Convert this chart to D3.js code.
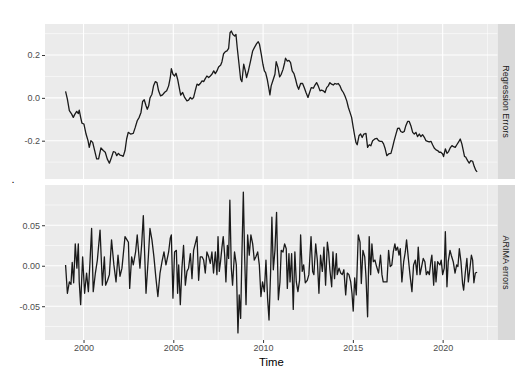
<!DOCTYPE html>
<html><head><meta charset="utf-8">
<script src="https://cdn.jsdelivr.net/npm/d3@7"></script>
<style>body{margin:0;background:#fff}svg{display:block}text{font-family:"Liberation Sans",Arial,Helvetica,sans-serif}</style>
</head><body><svg id="c" width="521" height="373"></svg>
<script>
const facetLabels = ["Regression Errors", "ARIMA errors"];
const xTitle = "Time";
const yTitle = ".";

const regYears = [1999.00,1999.10,1999.21,1999.34,1999.43,1999.52,1999.62,1999.71,1999.76,1999.84,1999.91,2000.02,2000.14,2000.25,2000.32,2000.41,2000.51,2000.62,2000.73,2000.84,2000.97,2001.10,2001.21,2001.32,2001.44,2001.56,2001.66,2001.77,2001.85,2001.94,2002.03,2002.14,2002.21,2002.31,2002.40,2002.49,2002.62,2002.77,2002.88,2002.99,2003.10,2003.20,2003.29,2003.38,2003.48,2003.55,2003.63,2003.70,2003.81,2003.90,2004.00,2004.09,2004.18,2004.29,2004.40,2004.52,2004.63,2004.74,2004.83,2004.89,2004.98,2005.07,2005.15,2005.24,2005.33,2005.41,2005.52,2005.63,2005.76,2005.85,2005.95,2006.04,2006.13,2006.22,2006.32,2006.41,2006.50,2006.60,2006.69,2006.78,2006.87,2006.97,2007.06,2007.15,2007.25,2007.34,2007.43,2007.52,2007.64,2007.71,2007.80,2007.90,2007.99,2008.08,2008.16,2008.23,2008.32,2008.42,2008.49,2008.56,2008.66,2008.75,2008.82,2008.92,2009.01,2009.08,2009.19,2009.30,2009.42,2009.53,2009.64,2009.73,2009.80,2009.90,2009.99,2010.07,2010.14,2010.23,2010.33,2010.38,2010.45,2010.57,2010.66,2010.73,2010.83,2010.92,2011.01,2011.11,2011.20,2011.25,2011.35,2011.44,2011.53,2011.62,2011.72,2011.81,2011.90,2011.98,2012.09,2012.20,2012.29,2012.39,2012.50,2012.59,2012.68,2012.80,2012.89,2012.98,2013.07,2013.17,2013.26,2013.35,2013.45,2013.54,2013.63,2013.72,2013.82,2013.91,2014.00,2014.10,2014.19,2014.28,2014.38,2014.47,2014.56,2014.66,2014.75,2014.84,2014.93,2015.02,2015.10,2015.17,2015.24,2015.34,2015.43,2015.52,2015.61,2015.73,2015.82,2015.91,2016.00,2016.10,2016.22,2016.34,2016.43,2016.52,2016.62,2016.71,2016.80,2016.89,2016.99,2017.12,2017.21,2017.30,2017.40,2017.49,2017.58,2017.67,2017.77,2017.86,2017.95,2018.05,2018.14,2018.23,2018.33,2018.42,2018.51,2018.60,2018.70,2018.79,2018.88,2018.98,2019.07,2019.16,2019.25,2019.35,2019.44,2019.53,2019.63,2019.72,2019.81,2019.90,2020.00,2020.05,2020.15,2020.24,2020.33,2020.42,2020.52,2020.61,2020.70,2020.79,2020.89,2020.98,2021.07,2021.15,2021.22,2021.29,2021.39,2021.48,2021.57,2021.67,2021.76,2021.85,2021.92];
const regErrors = [0.030,-0.006,-0.060,-0.076,-0.091,-0.076,-0.063,-0.073,-0.057,-0.091,-0.118,-0.122,-0.169,-0.200,-0.231,-0.200,-0.208,-0.246,-0.285,-0.285,-0.234,-0.246,-0.254,-0.285,-0.305,-0.277,-0.251,-0.254,-0.270,-0.259,-0.267,-0.270,-0.273,-0.246,-0.192,-0.161,-0.169,-0.166,-0.138,-0.107,-0.091,-0.068,-0.017,-0.009,-0.037,-0.053,-0.037,-0.001,0.017,0.056,0.076,0.071,0.033,0.009,0.014,0.026,0.033,0.056,0.094,0.136,0.110,0.102,0.115,0.087,0.048,0.013,0.025,0.002,-0.014,-0.011,0.002,-0.006,0.002,0.033,0.064,0.059,0.067,0.079,0.076,0.090,0.102,0.095,0.102,0.110,0.126,0.113,0.126,0.144,0.153,0.169,0.206,0.216,0.219,0.231,0.304,0.312,0.296,0.289,0.296,0.234,0.157,0.087,0.076,0.157,0.126,0.095,0.129,0.172,0.219,0.237,0.253,0.262,0.250,0.203,0.157,0.126,0.118,0.087,0.040,0.014,0.056,0.087,0.110,0.169,0.141,0.098,0.110,0.133,0.164,0.185,0.172,0.175,0.164,0.126,0.113,0.087,0.056,0.040,0.067,0.067,0.048,0.025,0.002,0.025,0.048,0.045,0.060,0.071,0.056,0.033,0.036,0.033,0.025,0.048,0.056,0.071,0.064,0.060,0.067,0.064,0.067,0.056,0.036,0.025,0.009,-0.014,-0.045,-0.068,-0.091,-0.138,-0.177,-0.208,-0.219,-0.177,-0.169,-0.185,-0.169,-0.166,-0.231,-0.219,-0.224,-0.200,-0.192,-0.189,-0.200,-0.203,-0.203,-0.215,-0.238,-0.270,-0.262,-0.259,-0.231,-0.200,-0.169,-0.143,-0.141,-0.157,-0.161,-0.157,-0.130,-0.110,-0.110,-0.130,-0.161,-0.169,-0.161,-0.181,-0.169,-0.181,-0.172,-0.184,-0.200,-0.203,-0.206,-0.203,-0.219,-0.234,-0.243,-0.246,-0.254,-0.254,-0.262,-0.274,-0.238,-0.259,-0.251,-0.234,-0.223,-0.228,-0.231,-0.219,-0.206,-0.192,-0.215,-0.246,-0.274,-0.277,-0.293,-0.305,-0.293,-0.296,-0.321,-0.339,-0.346];

const arimaYears = [1999.00,1999.10,1999.21,1999.30,1999.37,1999.45,1999.54,1999.63,1999.71,1999.76,1999.84,1999.95,2000.06,2000.17,2000.27,2000.36,2000.45,2000.54,2000.66,2000.77,2000.92,2001.05,2001.16,2001.23,2001.34,2001.44,2001.56,2001.69,2001.81,2001.92,2002.03,2002.14,2002.31,2002.42,2002.50,2002.57,2002.68,2002.77,2002.90,2002.99,2003.14,2003.24,2003.33,2003.48,2003.61,2003.70,2003.81,2003.92,2004.03,2004.14,2004.26,2004.37,2004.48,2004.59,2004.74,2004.83,2004.89,2004.98,2005.07,2005.17,2005.24,2005.30,2005.39,2005.48,2005.57,2005.67,2005.76,2005.85,2005.95,2006.04,2006.13,2006.22,2006.32,2006.41,2006.50,2006.60,2006.69,2006.78,2006.87,2006.97,2007.06,2007.15,2007.24,2007.34,2007.43,2007.49,2007.56,2007.63,2007.71,2007.78,2007.86,2007.93,2008.01,2008.08,2008.15,2008.23,2008.30,2008.41,2008.51,2008.60,2008.67,2008.75,2008.82,2008.90,2008.97,2009.05,2009.14,2009.23,2009.32,2009.42,2009.51,2009.60,2009.70,2009.79,2009.88,2009.97,2010.07,2010.16,2010.25,2010.33,2010.42,2010.49,2010.57,2010.66,2010.75,2010.85,2010.94,2011.01,2011.11,2011.20,2011.29,2011.35,2011.44,2011.50,2011.59,2011.68,2011.77,2011.85,2011.94,2012.03,2012.09,2012.18,2012.26,2012.35,2012.46,2012.55,2012.67,2012.76,2012.83,2012.93,2013.02,2013.11,2013.20,2013.30,2013.39,2013.48,2013.58,2013.65,2013.72,2013.82,2013.89,2013.98,2014.08,2014.13,2014.23,2014.32,2014.41,2014.50,2014.60,2014.69,2014.78,2014.88,2014.95,2015.02,2015.10,2015.19,2015.30,2015.40,2015.47,2015.56,2015.66,2015.73,2015.82,2015.91,2015.99,2016.06,2016.14,2016.23,2016.32,2016.43,2016.54,2016.62,2016.69,2016.80,2016.90,2016.99,2017.08,2017.17,2017.25,2017.34,2017.40,2017.49,2017.57,2017.64,2017.73,2017.83,2017.92,2017.99,2018.09,2018.18,2018.29,2018.38,2018.48,2018.57,2018.64,2018.74,2018.83,2018.92,2019.01,2019.09,2019.18,2019.26,2019.35,2019.40,2019.50,2019.57,2019.63,2019.72,2019.78,2019.85,2019.92,2020.00,2020.09,2020.15,2020.24,2020.31,2020.41,2020.48,2020.59,2020.69,2020.78,2020.85,2020.93,2021.02,2021.11,2021.17,2021.26,2021.35,2021.43,2021.50,2021.60,2021.67,2021.74,2021.82,2021.92];
const arimaErrors = [0.001,-0.034,-0.020,-0.023,0.004,-0.021,0.027,-0.003,0.027,-0.020,-0.048,0.011,-0.034,-0.009,-0.032,0.005,0.046,-0.032,-0.009,0.007,0.044,-0.024,0.011,-0.024,-0.018,-0.011,0.032,0.001,-0.020,0.013,-0.013,-0.003,0.036,0.032,0.029,-0.028,0.011,0.001,0.017,0.038,-0.003,0.027,0.062,-0.034,0.011,0.046,0.032,0.011,-0.015,-0.038,-0.009,0.005,0.017,0.001,0.017,0.034,0.038,-0.040,0.017,0.019,-0.034,0.001,-0.048,-0.003,0.025,-0.024,-0.007,-0.003,0.015,-0.016,0.019,0.027,0.036,-0.018,0.011,0.011,0.007,-0.009,0.017,0.011,0.003,0.017,-0.009,0.017,-0.011,0.036,-0.007,0.005,0.023,0.036,0.013,-0.020,0.025,0.009,0.081,-0.003,-0.024,0.017,0.001,-0.083,-0.036,-0.065,0.013,0.091,0.013,-0.048,0.038,0.013,0.038,0.027,0.007,0.011,0.017,0.001,-0.038,-0.020,-0.032,0.007,-0.040,-0.067,-0.007,0.060,-0.005,0.019,0.066,-0.042,-0.020,0.019,0.017,0.027,0.021,-0.028,0.015,-0.020,0.015,-0.054,0.017,-0.020,-0.032,-0.018,0.038,-0.007,0.001,-0.021,-0.018,-0.011,0.036,-0.007,-0.011,0.027,0.007,-0.034,0.013,-0.007,0.023,-0.024,0.029,0.017,-0.005,-0.026,0.017,-0.016,0.015,-0.011,-0.003,-0.009,-0.011,-0.005,-0.036,-0.009,-0.011,-0.020,-0.034,-0.056,-0.015,-0.036,0.038,0.029,-0.022,0.019,0.011,-0.014,-0.063,0.036,-0.011,0.027,0.005,0.007,-0.001,-0.009,0.013,-0.011,-0.020,-0.020,-0.020,0.019,-0.001,0.001,0.017,0.027,0.019,0.023,0.013,0.021,-0.020,0.005,0.017,0.032,0.009,-0.011,-0.032,0.001,0.007,-0.011,0.023,-0.011,-0.001,0.009,0.005,-0.011,-0.007,-0.011,0.007,0.013,-0.024,0.005,-0.020,0.005,0.003,0.001,0.007,-0.011,-0.003,0.042,-0.026,0.005,0.019,0.013,0.005,-0.009,0.001,-0.001,0.021,0.005,-0.022,-0.030,-0.009,0.009,-0.020,-0.007,0.013,0.007,-0.021,-0.009,-0.008];

const xTicks = [2000, 2005, 2010, 2015, 2020];
const xMinorTicks = [1997.5, 2002.5, 2007.5, 2012.5, 2017.5, 2022.5];
const regTicks = [-0.2, 0.0, 0.2];
const regMinorTicks = [-0.3, -0.1, 0.1, 0.3];
const arimaTicks = [-0.05, 0.00, 0.05];
const arimaMinorTicks = [-0.075, -0.025, 0.025, 0.075];

const svg = d3.select("#c");
const left = 45, right = 497.7, stripW = 17.3;
const panels = [
  {top: 24, bottom: 179, years: regYears, vals: regErrors, ticks: regTicks, minor: regMinorTicks, fmt: ".1f", label: facetLabels[0]},
  {top: 185, bottom: 340, years: arimaYears, vals: arimaErrors, ticks: arimaTicks, minor: arimaMinorTicks, fmt: ".2f", label: facetLabels[1]}
];
const loc = d3.formatLocale({decimal: ".", thousands: ",", grouping: [3], currency: ["", ""], minus: "-"});
function expand(ext, m) { const s = ext[1] - ext[0]; return [ext[0] - s * m, ext[1] + s * m]; }

const allYears = regYears.concat(arimaYears);
const x = d3.scaleLinear().domain(expand(d3.extent(allYears), 0.05)).range([left, right]);

panels.forEach((p, pi) => {
  const y = d3.scaleLinear().domain(expand(d3.extent(p.vals), 0.05)).range([p.bottom, p.top]);
  const g = svg.append("g");
  g.append("rect").attr("x", left).attr("y", p.top).attr("width", right - left).attr("height", p.bottom - p.top).attr("fill", "#EBEBEB");
  const xd = x.domain(), yd = y.domain();
  g.selectAll(".hm").data(p.minor.filter(v => v >= yd[0] && v <= yd[1])).join("line")
    .attr("x1", left).attr("x2", right).attr("y1", d => y(d)).attr("y2", d => y(d))
    .attr("stroke", "#fff").attr("stroke-width", 0.55);
  g.selectAll(".vm").data(xMinorTicks.filter(v => v >= xd[0] && v <= xd[1])).join("line")
    .attr("y1", p.top).attr("y2", p.bottom).attr("x1", d => x(d)).attr("x2", d => x(d))
    .attr("stroke", "#fff").attr("stroke-width", 0.55);
  g.selectAll(".hM").data(p.ticks).join("line")
    .attr("x1", left).attr("x2", right).attr("y1", d => y(d)).attr("y2", d => y(d))
    .attr("stroke", "#fff").attr("stroke-width", 1.1);
  g.selectAll(".vM").data(xTicks).join("line")
    .attr("y1", p.top).attr("y2", p.bottom).attr("x1", d => x(d)).attr("x2", d => x(d))
    .attr("stroke", "#fff").attr("stroke-width", 1.1);

  const pts = p.years.map((t, i) => [t, p.vals[i]]);
  g.append("path").datum(pts)
    .attr("d", d3.line().x(d => x(d[0])).y(d => y(d[1])))
    .attr("fill", "none").attr("stroke", "#1a1a1a").attr("stroke-width", 1.3).attr("stroke-linejoin", "round");

  const ya = svg.append("g").attr("transform", `translate(${left},0)`)
    .call(d3.axisLeft(y).tickValues(p.ticks).tickSize(3).tickPadding(2).tickFormat(loc.format(p.fmt)));
  ya.select(".domain").remove();
  ya.selectAll("line").attr("stroke", "#333").attr("stroke-width", 1);
  ya.selectAll("text").attr("fill", "#4D4D4D").style("font-size", "9px");

  svg.append("rect").attr("x", right).attr("y", p.top).attr("width", stripW).attr("height", p.bottom - p.top).attr("fill", "#D9D9D9");
  const cx = right + stripW / 2, cy = (p.top + p.bottom) / 2;
  svg.append("text").attr("transform", `translate(${cx},${cy}) rotate(90)`)
    .attr("text-anchor", "middle").attr("dominant-baseline", "central")
    .attr("fill", "#1A1A1A").style("font-size", "9px").text(p.label);

  if (pi === panels.length - 1) {
    const xa = svg.append("g").attr("transform", `translate(0,${p.bottom})`)
      .call(d3.axisBottom(x).tickValues(xTicks).tickSize(3).tickPadding(2).tickFormat(d3.format("d")));
    xa.select(".domain").remove();
    xa.selectAll("line").attr("stroke", "#333").attr("stroke-width", 1);
    xa.selectAll("text").attr("fill", "#4D4D4D").style("font-size", "9px");
  }
});

svg.append("text").attr("x", (left + right) / 2).attr("y", 365.5).attr("text-anchor", "middle")
  .attr("fill", "#000").style("font-size", "11.3px").text(xTitle);
svg.append("text").attr("x", 13).attr("y", 183).attr("text-anchor", "middle")
  .attr("fill", "#000").style("font-size", "11px").text(yTitle);
</script></body></html>
